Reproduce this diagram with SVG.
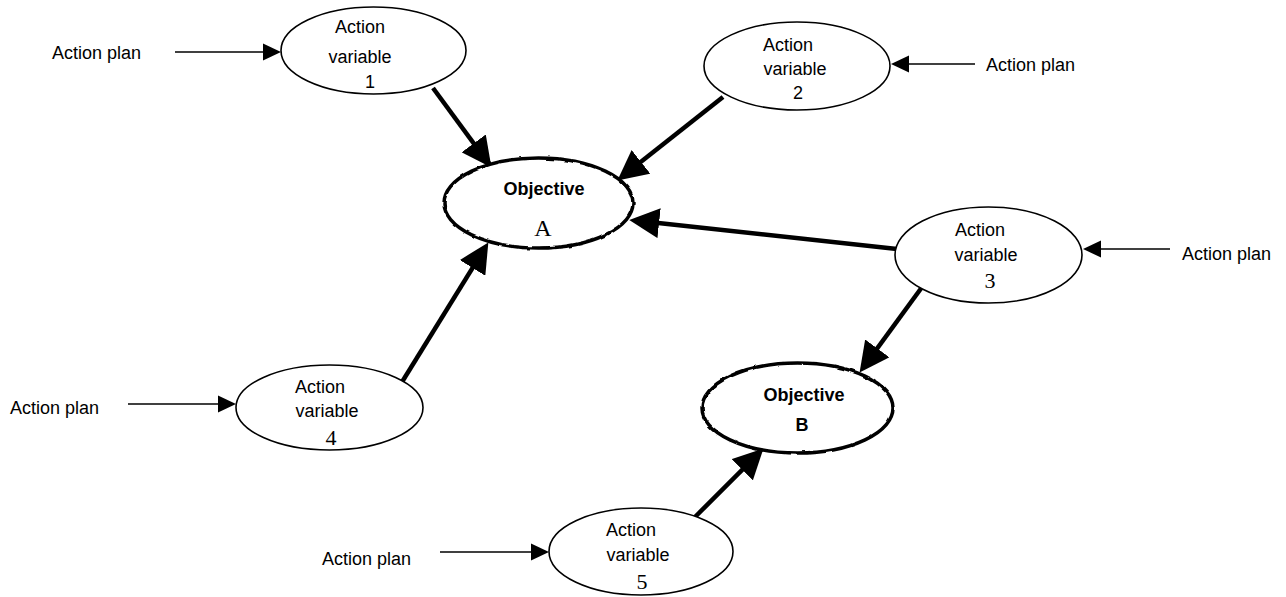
<svg xmlns="http://www.w3.org/2000/svg" width="1286" height="597" viewBox="0 0 1286 597">
<style>
.bg{fill:#fff}
.av{fill:#fff;stroke:#000;stroke-width:1.6}
.obj{fill:#fff;stroke:#000;stroke-width:3.5}
.t{font-family:"Liberation Sans",Arial,sans-serif;font-size:18px;fill:#000}
.tc{text-anchor:middle}
.b{font-weight:bold}
.s{font-family:"Liberation Serif","Times New Roman",serif;font-size:22px;fill:#000;text-anchor:middle}
.thin{stroke:#000;stroke-width:1.6;fill:none;marker-end:url(#ah)}
.thick{stroke:#000;stroke-width:4.5;fill:none;marker-end:url(#AH)}
</style>
<defs>
<marker id="ah" markerUnits="userSpaceOnUse" markerWidth="18" markerHeight="18" refX="13" refY="8.5" orient="auto" viewBox="0 0 18 17">
<path d="M0,0 L18,8.5 L0,17 z" fill="#000"/>
</marker>
<marker id="AH" markerUnits="userSpaceOnUse" markerWidth="30" markerHeight="30" refX="18" refY="14" orient="auto" viewBox="0 0 28 28">
<path d="M0,0 L28,14 L0,28 z" fill="#000"/>
</marker>
<filter id="wob" x="-10%" y="-10%" width="120%" height="120%">
<feTurbulence type="fractalNoise" baseFrequency="0.12" numOctaves="1" seed="3" result="n"/>
<feDisplacementMap in="SourceGraphic" in2="n" scale="3" xChannelSelector="R" yChannelSelector="G"/>
</filter>
</defs>
<rect class="bg" x="0" y="0" width="1286" height="597"/>

<g id="connectors">
<line class="thin" x1="175" y1="52" x2="276" y2="52"/>
<line class="thin" x1="975" y1="64" x2="896" y2="64"/>
<line class="thin" x1="1170" y1="249" x2="1088" y2="249"/>
<line class="thin" x1="128" y1="404" x2="231" y2="404"/>
<line class="thin" x1="440" y1="552" x2="544" y2="552"/>
<line class="thick" x1="433" y1="88" x2="485.1" y2="158.9"/>
<line class="thick" x1="723" y1="97" x2="625.8" y2="173.8"/>
<line class="thick" x1="897" y1="249" x2="639.9" y2="221.1"/>
<line class="thick" x1="402" y1="382" x2="482.7" y2="251.5"/>
<line class="thick" x1="925" y1="283" x2="865.9" y2="363.9"/>
<line class="thick" x1="695" y1="517" x2="755.9" y2="456.1"/>
</g>

<g id="plan1"><text class="t" x="52" y="59">Action plan</text></g>
<g id="plan2"><text class="t" x="986" y="71">Action plan</text></g>
<g id="plan3"><text class="t" x="1182" y="260">Action plan</text></g>
<g id="plan4"><text class="t" x="10" y="414">Action plan</text></g>
<g id="plan5"><text class="t" x="322" y="565">Action plan</text></g>

<g id="av1">
<ellipse class="av" cx="373.5" cy="50.5" rx="92.5" ry="43.5"/>
<text class="t tc" x="360" y="33">Action</text>
<text class="t tc" x="360" y="63">variable</text>
<text class="t tc" x="370" y="88">1</text>
</g>
<g id="av2">
<ellipse class="av" cx="797" cy="66" rx="93" ry="44"/>
<text class="t tc" x="788" y="51">Action</text>
<text class="t tc" x="795" y="75">variable</text>
<text class="t tc" x="798" y="99">2</text>
</g>
<g id="av3">
<ellipse class="av" cx="988.5" cy="255" rx="93.5" ry="48"/>
<text class="t tc" x="980" y="236">Action</text>
<text class="t tc" x="986" y="261">variable</text>
<text class="s" x="990" y="288">3</text>
</g>
<g id="av4">
<ellipse class="av" cx="329.5" cy="407.5" rx="93.5" ry="42.5"/>
<text class="t tc" x="320" y="393">Action</text>
<text class="t tc" x="327" y="417">variable</text>
<text class="s" x="331" y="445">4</text>
</g>
<g id="av5">
<ellipse class="av" cx="641" cy="551.5" rx="92" ry="43.5"/>
<text class="t tc" x="631" y="536">Action</text>
<text class="t tc" x="638" y="561">variable</text>
<text class="s" x="642" y="589">5</text>
</g>
<g id="objA">
<ellipse class="obj" cx="538.5" cy="203" rx="94.5" ry="45" filter="url(#wob)"/>
<text class="t tc b" x="544" y="195">Objective</text>
<text class="s" x="543" y="236" style="font-size:24px">A</text>
</g>
<g id="objB">
<ellipse class="obj" cx="797.5" cy="408" rx="95.5" ry="45" filter="url(#wob)"/>
<text class="t tc b" x="804" y="401">Objective</text>
<text class="t tc b" x="802" y="431">B</text>
</g>
</svg>
